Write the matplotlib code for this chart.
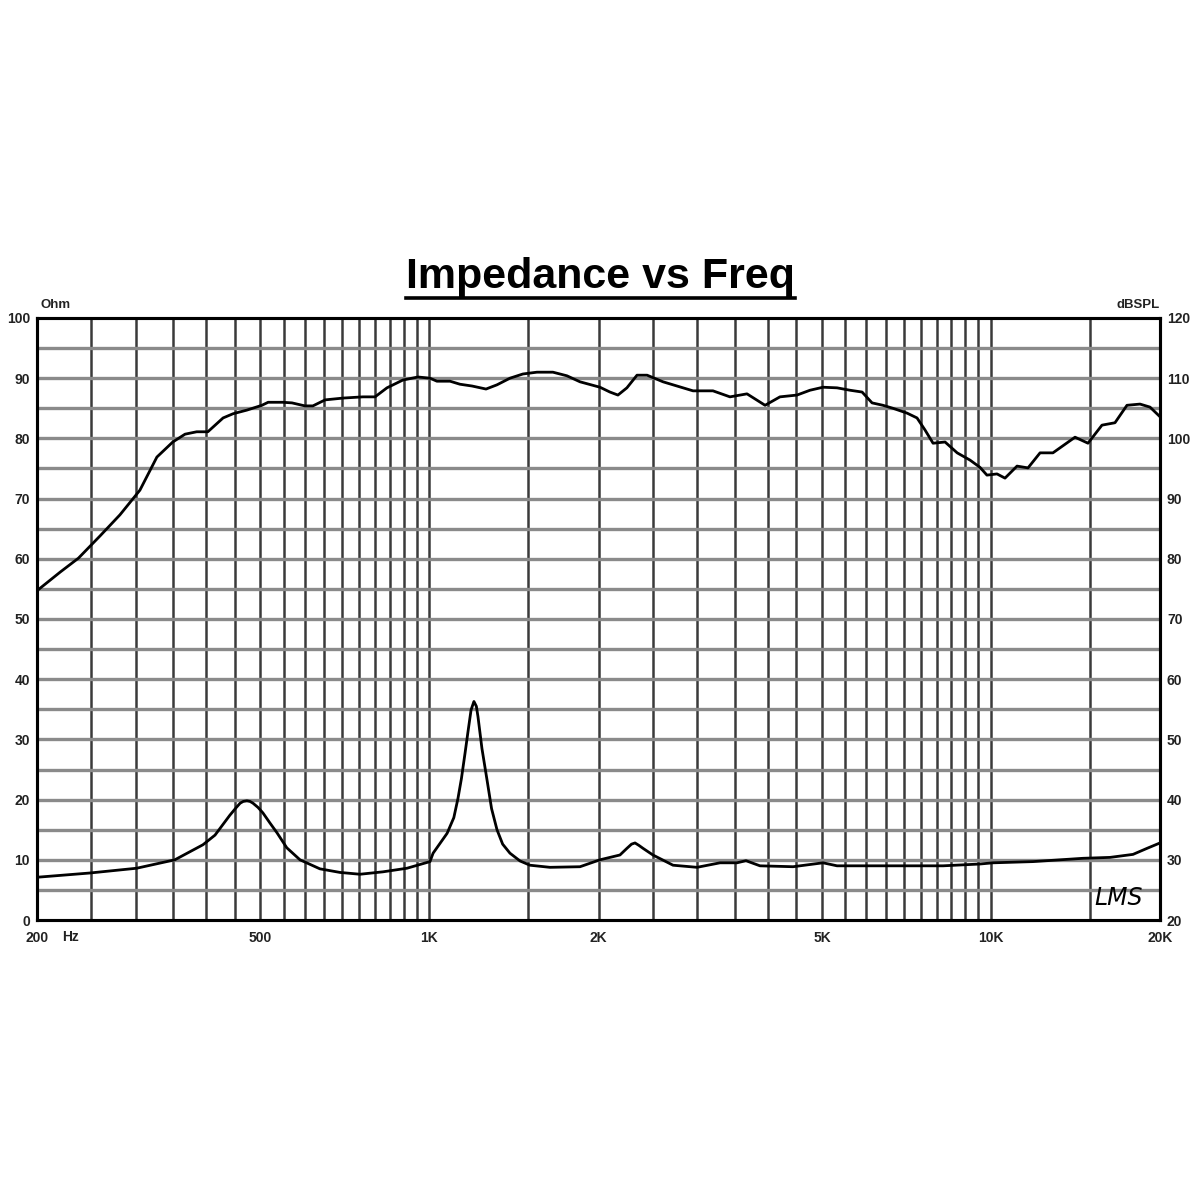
import matplotlib
matplotlib.use("Agg")
import matplotlib.pyplot as plt
from matplotlib.lines import Line2D
from matplotlib.ticker import FixedLocator, FixedFormatter, NullFormatter

plt.rcParams['font.family'] = ['Liberation Sans', 'DejaVu Sans']

# SPL response (right axis, dBSPL)
spl_freq = [200, 220, 237, 259, 281, 305, 327, 349, 367, 385, 403, 429, 447, 473,
            503, 516, 548, 569, 600, 620, 652, 702, 761, 800, 840, 897, 954, 1002,
            1031, 1088, 1133, 1191, 1261, 1319, 1391, 1467, 1554, 1659, 1757, 1854,
            2012, 2096, 2166, 2247, 2342, 2441, 2606, 2760, 2947, 3198, 3429, 3677,
            3960, 4209, 4514, 4761, 5022, 5319, 5610, 5895, 6141, 6421, 6690, 7088,
            7384, 7630, 7886, 8284, 8706, 9175, 9557, 9836, 10250, 10592, 11128,
            11640, 12230, 12893, 14116, 14886, 15764, 16628, 17466, 18426, 19196, 20000]
spl_db = [74.7, 77.8, 80.1, 83.8, 87.3, 91.4, 96.9, 99.4, 100.7, 101.1, 101.1, 103.4,
          104.1, 104.7, 105.5, 106.0, 106.0, 105.9, 105.4, 105.4, 106.4, 106.7, 106.9,
          106.9, 108.4, 109.7, 110.2, 110.0, 109.5, 109.5, 109.0, 108.7, 108.2, 108.9,
          110.0, 110.7, 111.0, 111.0, 110.4, 109.4, 108.5, 107.7, 107.2, 108.4, 110.5,
          110.5, 109.4, 108.7, 107.9, 107.9, 106.9, 107.4, 105.5, 106.9, 107.2, 108.0,
          108.5, 108.4, 108.0, 107.7, 105.9, 105.5, 105.0, 104.2, 103.4, 101.4, 99.2,
          99.4, 97.6, 96.4, 95.2, 93.9, 94.1, 93.4, 95.4, 95.1, 97.6, 97.6, 100.2,
          99.2, 102.2, 102.6, 105.5, 105.7, 105.2, 103.6]

# Impedance (left axis, Ohm)
imp_freq = [200, 248, 301, 352, 395, 415, 441, 452, 460, 466, 473, 479, 485, 495, 505,
            520, 535, 557, 588, 638, 693, 752, 826, 912, 1002, 1015, 1075, 1105, 1124,
            1140, 1157, 1172, 1186, 1200, 1212, 1220, 1240, 1266, 1290, 1319, 1350,
            1391, 1450, 1510, 1639, 1854, 2012, 2184, 2247, 2290, 2323, 2360, 2401, 2500,
            2715, 2996, 3292, 3529, 3662, 3878, 4441, 5022, 5319, 6888, 8215, 9557,
            10087, 11880, 14589, 16293, 17905, 18962, 20000]
imp_ohm = [7.1, 7.8, 8.6, 10.0, 12.5, 14.1, 17.4, 18.6, 19.4, 19.7, 19.8, 19.7, 19.4,
           18.7, 17.8, 16.1, 14.5, 12.0, 10.0, 8.5, 7.9, 7.6, 8.0, 8.6, 9.7, 11.1, 14.4,
           17.0, 20.2, 23.5, 27.7, 31.5, 34.9, 36.3, 35.5, 33.8, 28.5, 23.3, 18.5, 15.0,
           12.6, 11.1, 9.8, 9.1, 8.75, 8.85, 10.0, 10.8, 11.9, 12.6, 12.8, 12.4, 11.9,
           10.8, 9.1, 8.75, 9.5, 9.5, 9.85, 9.0, 8.85, 9.5, 9.0, 9.0, 9.0, 9.3, 9.5, 9.7,
           10.25, 10.4, 10.9, 11.9, 12.8]

x_tick_freq = [200, 500, 1000, 2000, 5000, 10000, 20000]
x_tick_labels = ['200', '500', '1K', '2K', '5K', '10K', '20K']
ohm_ticks = list(range(0, 101, 10))
db_ticks = list(range(20, 121, 10))
grid_freq = list(range(250, 1000, 50)) + list(range(1000, 10000, 500)) + [10000, 15000]
ohm_grid = list(range(5, 100, 5))

fig = plt.figure(figsize=(12, 12), dpi=100)
ax = fig.add_axes([37 / 1200, 280 / 1200, 1123 / 1200, 602 / 1200])
ax.set_xscale('log')
ax.set_xlim(200, 20000)
ax.set_ylim(0, 100)

for f in grid_freq:
    ax.axvline(f, color='#3a3a3a', lw=1.8, zorder=1)
for v in ohm_grid:
    ax.axhline(v, color='#8a8a8a', lw=2.4, zorder=1)

ax.plot(imp_freq, imp_ohm, color='black', lw=2.0, zorder=3)

ax.xaxis.set_major_locator(FixedLocator(x_tick_freq))
ax.xaxis.set_major_formatter(FixedFormatter(x_tick_labels))
ax.xaxis.set_minor_locator(FixedLocator([]))
ax.xaxis.set_minor_formatter(NullFormatter())
ax.yaxis.set_major_locator(FixedLocator(ohm_ticks))
ax.tick_params(axis='both', length=0, labelsize=10, pad=5)
for lab in ax.get_xticklabels() + ax.get_yticklabels():
    lab.set_fontweight('bold')
    lab.set_color('#222222')
ax.tick_params(axis='x', pad=8)

ax2 = ax.twinx()
ax2.set_ylim(20, 120)
ax2.plot(spl_freq, spl_db, color='black', lw=2.0, zorder=3)
ax2.yaxis.set_major_locator(FixedLocator(db_ticks))
ax2.tick_params(axis='y', length=0, labelsize=10, pad=5)
for lab in ax2.get_yticklabels():
    lab.set_fontweight('bold')
    lab.set_color('#222222')

for a in (ax, ax2):
    for s in a.spines.values():
        s.set_linewidth(2.2)
        s.set_color('black')

ax.text(0.003, 1.012, 'Ohm', transform=ax.transAxes, fontsize=9.5, fontweight='bold',
        color='#222222', ha='left', va='bottom')
ax.text(1.0, 1.012, 'dBSPL', transform=ax.transAxes, fontsize=9.5, fontweight='bold',
        color='#222222', ha='right', va='bottom')
ax.text(0.022, -0.028, 'Hz', transform=ax.transAxes, fontsize=10, fontweight='bold',
        color='#222222', ha='left', va='center')
ax.text(0.963, 0.037, 'LMS', transform=ax.transAxes, fontsize=17, style='italic',
        family='DejaVu Sans', fontweight='light', color='black', ha='center', va='center')

title = fig.text(0.5, 1 - 277 / 1200, 'Impedance vs Freq', fontsize=31,
                 fontweight='bold', ha='center', va='center')
fig.canvas.draw()
bb = title.get_window_extent().transformed(fig.transFigure.inverted())
uy = 1 - 298 / 1200
fig.add_artist(Line2D([bb.x0, bb.x1], [uy, uy], color='black', lw=2.6,
                      transform=fig.transFigure))

fig.savefig('out.png', dpi=100, facecolor='white')
